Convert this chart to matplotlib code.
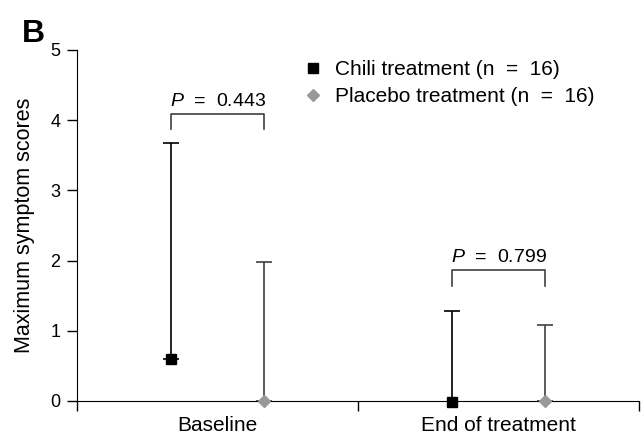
import matplotlib
matplotlib.use("Agg")
import matplotlib.pyplot as plt
import numpy as np

plt.rcParams['font.family'] = ['Liberation Sans', 'DejaVu Sans']
plt.rcParams['mathtext.fontset'] = 'custom'
plt.rcParams['mathtext.it'] = 'Liberation Sans:italic'
plt.rcParams['mathtext.rm'] = 'Liberation Sans'

categories = ["Baseline", "End of treatment"]
series = ["Chili treatment (n  =  16)", "Placebo treatment (n  =  16)"]
medians = {"chili": [0.6, -0.02], "placebo": [0.0, 0.0]}
upper = {"chili": [3.68, 1.28], "placebo": [1.98, 1.08]}
p_values = ["0.443", "0.799"]
bracket_top = [4.09, 1.87]
bracket_leg = [3.87, 1.64]

fig = plt.figure(figsize=(6.44, 4.37), dpi=100)
ax = fig.add_axes([0.1196, 0.0824, 0.8727, 0.8032])

x = np.arange(len(categories))
off = 0.167
styles = {
    "chili": dict(marker="s", color="black", ms=7.3, ecolor="black"),
    "placebo": dict(marker="D", color="#999999", ms=6.5, ecolor="#404040"),
}
for key, sign, lab in [("chili", -1, series[0]), ("placebo", 1, series[1])]:
    med = np.array(medians[key])
    up = np.array(upper[key]) - med
    st = styles[key]
    ax.errorbar(x + sign * off, med, yerr=[np.zeros_like(up), up], fmt="none",
                ecolor=st["ecolor"], elinewidth=1.2, capsize=5.5, capthick=1.2, zorder=2)
    ax.plot(x + sign * off, med, linestyle="none", marker=st["marker"], color=st["color"],
            ms=st["ms"], label=lab, zorder=3, clip_on=False)

for i in range(len(categories)):
    x0, x1 = x[i] - off, x[i] + off
    ax.plot([x0, x0, x1, x1], [bracket_leg[i], bracket_top[i], bracket_top[i], bracket_leg[i]],
            color="#404040", lw=1.2)
    ax.text(x[i], bracket_top[i] + 0.11, r"$P$  =  " + p_values[i], ha="center",
            va="baseline", fontsize=14)

ax.set_xlim(-0.5, 1.5)
ax.set_ylim(0, 5)
ax.set_xticks([-0.5, 0.5, 1.5])
ax.set_xticklabels([])
ax.set_xticks(x, minor=True)
ax.set_xticklabels(categories, minor=True, fontsize=15)
ax.tick_params(axis="x", which="minor", length=0, pad=11)
ax.tick_params(axis="x", which="major", length=7, width=1)
ax.set_yticks(range(6))
ax.tick_params(axis="y", labelsize=13, length=7, width=1, pad=5)
for s in ["top", "right"]:
    ax.spines[s].set_visible(False)
ax.set_ylabel("Maximum symptom scores", fontsize=15.5)
ax.yaxis.set_label_coords(-0.074, 0.5)

leg = ax.legend(loc="upper left", bbox_to_anchor=(0.402, 0.972), frameon=False, fontsize=15,
                handletextpad=0.55, borderaxespad=0, borderpad=0, labelspacing=0.4,
                handlelength=1.0)

fig.text(0.034, 0.905, "B", fontsize=23, fontweight="bold")

fig.savefig("out.png", dpi=100)
